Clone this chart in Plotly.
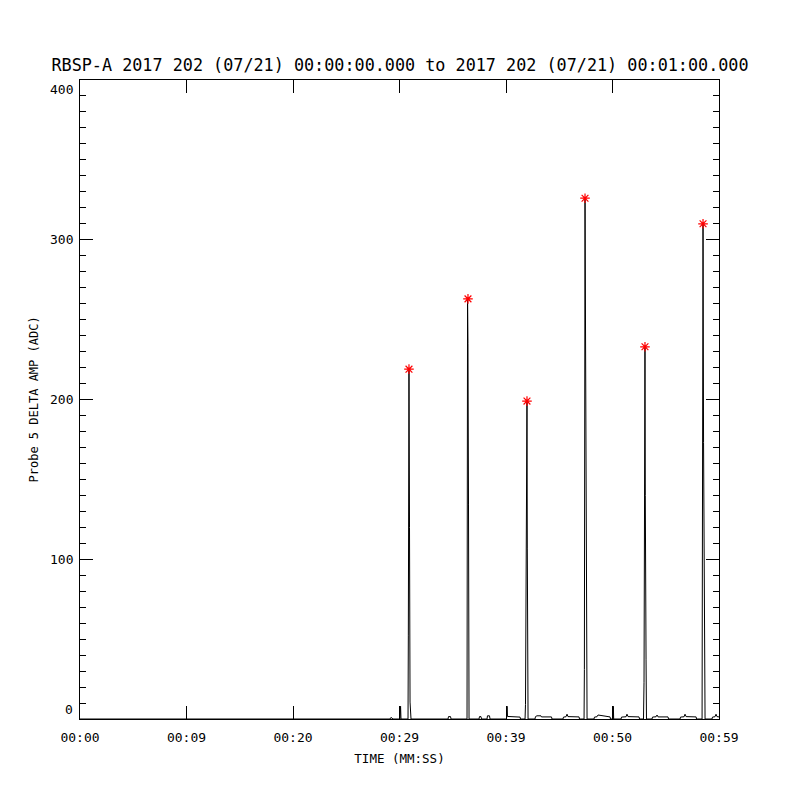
import plotly.graph_objects as go

# time (seconds after 00:00:00) and Probe 5 delta amplitude (ADC)
time_s = [0.00, 29.11, 29.20, 29.39, 30.05, 30.10, 30.14,
          30.80, 30.83, 30.89, 30.94, 30.99, 31.08,
          34.56, 34.60, 34.79, 34.84,
          36.34, 36.39, 36.43, 36.48, 36.53,
          37.47, 37.51, 37.65, 37.70, 38.22, 38.26, 38.45, 38.50,
          40.05, 40.10, 40.14, 40.38, 40.42, 41.32, 41.36,
          41.79, 41.83, 41.97, 42.00, 42.03, 42.07,
          42.72, 42.77, 42.91, 43.28, 43.33, 44.27, 44.32,
          45.35, 45.40, 45.63, 45.73, 45.82, 46.86, 46.90,
          47.33, 47.36, 47.42, 47.47, 47.54, 47.61,
          48.26, 48.31, 48.54, 48.64, 49.77, 49.81,
          50.05, 50.08, 50.11,
          50.80, 50.85, 51.27, 51.36, 51.46, 52.49, 52.54,
          52.91, 52.96, 53.05, 53.08, 53.15, 53.19,
          53.71, 53.76, 54.09, 54.18, 54.28, 55.21, 55.26,
          56.34, 56.39, 56.72, 56.81, 56.91, 57.85, 57.89,
          58.41, 58.43, 58.50, 58.55, 58.64, 58.69,
          59.34, 59.39, 59.62, 59.72, 59.81, 60.00]
amp = [0, 0, 1, 0, 0, 8, 0,
       0, 52, 219, 120, 10.6, 0,
       0, 1.5, 1.5, 0,
       0, 263, 235, 134, 0,
       0, 1.5, 1.5, 0, 0, 2, 2, 0,
       0, 8, 1.6, 1.6, 1.2, 1.2, 0,
       0, 9, 199, 107, 81, 0,
       0, 1.5, 2, 2, 1.3, 1.3, 0,
       0, 1.2, 1.4, 3, 1.5, 1.3, 0,
       0, 31, 326, 216, 52, 0,
       0, 1.2, 1.4, 2.5, 1.3, 0,
       0, 8, 0,
       0, 1.2, 1.4, 3, 1.5, 1.3, 0,
       0, 23, 233, 140, 37, 0,
       0, 1.2, 1.4, 2.5, 1.3, 1.3, 0,
       0, 1.2, 1.4, 3, 1.5, 1.3, 0,
       0, 70, 310, 173, 18, 0,
       0, 1.2, 1.4, 3, 1.5, 1.3]

# detected peaks (red asterisks)
peak_t = [30.89, 36.43, 41.97, 47.42, 53.05, 58.50]
peak_v = [219, 263, 199, 326, 233, 310]

x_tickvals = [0, 10, 20, 30, 40, 50, 60]
x_ticktext = ["00:00", "00:09", "00:20", "00:29", "00:39", "00:50", "00:59"]
y_tickvals = [0, 100, 200, 300, 400]
y_ticktext = ["0", "100", "200", "300", "400"]

title = "RBSP-A 2017 202 (07/21) 00:00:00.000 to 2017 202 (07/21) 00:01:00.000"

FONT = "DejaVu Sans Mono"

fig = go.Figure()
fig.add_trace(go.Scatter(x=time_s, y=amp, mode="lines",
                         line=dict(color="black", width=1), showlegend=False))
fig.add_trace(go.Scatter(x=peak_t, y=peak_v, mode="markers",
                         marker=dict(symbol="asterisk", size=8, color="red",
                                     line=dict(color="red", width=1.2)),
                         showlegend=False))
# invisible trace on right-side y axis for mirrored ticks
fig.add_trace(go.Scatter(x=[0], y=[0], yaxis="y2", mode="markers",
                         marker=dict(opacity=0), showlegend=False, hoverinfo="skip"))

# y tick labels kept inside the frame at the ends (IDL style)
for v, t in zip(y_tickvals, y_ticktext):
    anchor = "bottom" if v == y_tickvals[0] else ("top" if v == y_tickvals[-1] else "middle")
    fig.add_annotation(x=0, xref="paper", xanchor="right", xshift=-5,
                       y=v, yref="y", yanchor=anchor, text=t, showarrow=False,
                       font=dict(family=FONT, size=13, color="black"))

fig.update_layout(
    width=800, height=800,
    margin=dict(l=72, r=89, t=72, b=89),
    paper_bgcolor="white", plot_bgcolor="white",
    font=dict(family=FONT, color="black", size=13),
    title=dict(text=title, x=(400 - 8) / 800, xanchor="center",
               y=1 - 57 / 800, yanchor="middle",
               font=dict(family=FONT, size=16.8, color="black")),
    xaxis=dict(range=[0, 60], tickvals=x_tickvals, ticktext=x_ticktext,
               ticks="inside", ticklen=13, tickwidth=1, tickcolor="black",
               showline=True, linecolor="black", linewidth=1, mirror="ticks",
               showgrid=False, zeroline=False, ticklabelstandoff=6,
               tickfont=dict(size=13), automargin=False,
               title=dict(text="TIME (MM:SS)", font=dict(size=12.5), standoff=10)),
    yaxis=dict(range=[0, 400], tickvals=y_tickvals, showticklabels=False,
               ticks="inside", ticklen=13, tickwidth=1, tickcolor="black",
               showline=True, linecolor="black", linewidth=1,
               showgrid=False, zeroline=False, automargin=False,
               minor=dict(dtick=10, ticks="inside", ticklen=6, tickwidth=1,
                          tickcolor="black", showgrid=False)),
    yaxis2=dict(range=[0, 400], tickvals=y_tickvals, overlaying="y", side="right",
                ticks="inside", ticklen=13, tickwidth=1, tickcolor="black",
                showline=True, linecolor="black", linewidth=1,
                showgrid=False, zeroline=False, showticklabels=False, automargin=False,
                minor=dict(dtick=10, ticks="inside", ticklen=6, tickwidth=1,
                           tickcolor="black", showgrid=False)),
)

fig.add_annotation(x=0, xref="paper", xanchor="center", xshift=-47,
                   y=0.5, yref="paper", yanchor="middle", textangle=-90,
                   text="Probe 5 DELTA AMP (ADC)", showarrow=False,
                   font=dict(family=FONT, size=12, color="black"))

fig.write_html("out.html")
